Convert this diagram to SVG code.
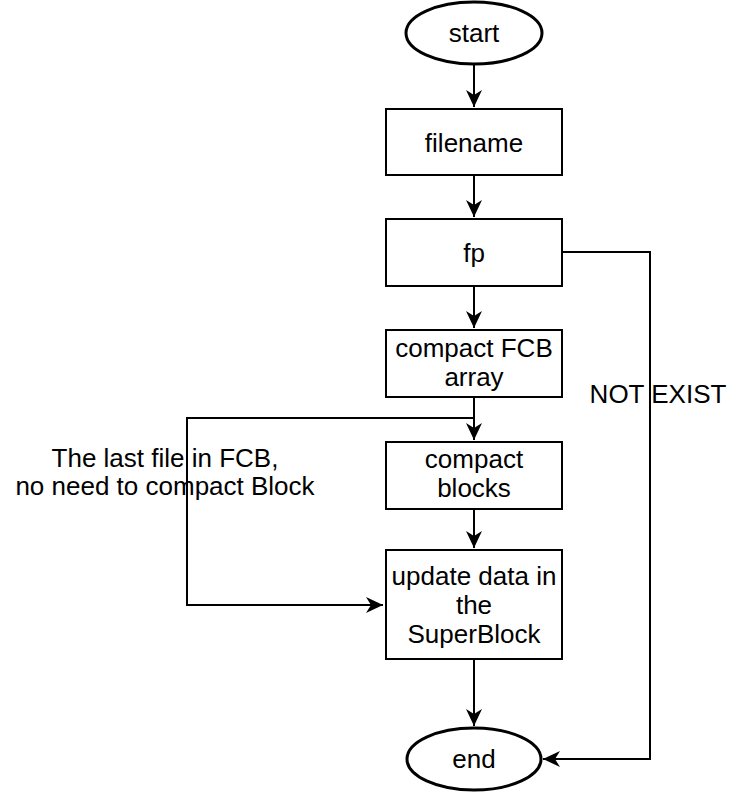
<svg xmlns="http://www.w3.org/2000/svg" width="744" height="792" viewBox="0 0 744 792">
<style>
.shape{fill:#fff;stroke:#000;stroke-width:2}
.ell{fill:#fff;stroke:#000;stroke-width:3}
.lbl{font-family:"Liberation Sans",Arial,sans-serif;font-size:26px;fill:#000;text-anchor:middle}
.edge{fill:none;stroke:#000;stroke-width:2}
</style>
<defs>
<marker id="arr" markerUnits="userSpaceOnUse" markerWidth="20" markerHeight="20" viewBox="-18 -10 20 20" refX="0" refY="0" orient="auto">
<path d="M0,0 L-17,-8 L-12,0 L-17,8 Z" fill="#000"/>
</marker>
</defs>
<rect width="744" height="792" fill="#fff"/>
<g id="connectors">
<path class="edge" d="M474,64 L474,107" marker-end="url(#arr)"/>
<path class="edge" d="M474,175 L474,217" marker-end="url(#arr)"/>
<path class="edge" d="M474,286 L474,328" marker-end="url(#arr)"/>
<path class="edge" d="M474,397 L474,440" marker-end="url(#arr)"/>
<path class="edge" d="M474,509 L474,548" marker-end="url(#arr)"/>
<path class="edge" d="M474,659 L474,726" marker-end="url(#arr)"/>
<path class="edge" d="M562,252 L650,252 L650,759 L543,759" marker-end="url(#arr)"/>
<path class="edge" d="M474,418 L187,418 L187,605 L383,605" marker-end="url(#arr)"/>
</g>
<g id="start">
<ellipse class="ell" cx="474" cy="33" rx="68" ry="31"/>
<text class="lbl" x="474" y="42">start</text>
</g>
<g id="filename">
<rect class="shape" x="386" y="109" width="176" height="66"/>
<text class="lbl" x="474" y="152">filename</text>
</g>
<g id="fp">
<rect class="shape" x="386" y="219" width="176" height="67"/>
<text class="lbl" x="474" y="262">fp</text>
</g>
<g id="compactFCB">
<rect class="shape" x="386" y="330" width="176" height="67"/>
<text class="lbl" x="474" y="357">compact FCB</text>
<text class="lbl" x="474" y="386">array</text>
</g>
<g id="compactBlocks">
<rect class="shape" x="386" y="442" width="176" height="67"/>
<text class="lbl" x="474" y="468">compact</text>
<text class="lbl" x="474" y="497">blocks</text>
</g>
<g id="update">
<rect class="shape" x="386" y="550" width="176" height="109"/>
<text class="lbl" x="474" y="585">update data in</text>
<text class="lbl" x="474" y="614">the</text>
<text class="lbl" x="474" y="643">SuperBlock</text>
</g>
<g id="end">
<ellipse class="ell" cx="474" cy="759" rx="67" ry="31"/>
<text class="lbl" x="474" y="768">end</text>
</g>
<g id="labels">
<text class="lbl" x="165" y="467">The last file in FCB,</text>
<text class="lbl" x="165" y="495">no need to compact Block</text>
<text class="lbl" x="658" y="403">NOT EXIST</text>
</g>
</svg>
